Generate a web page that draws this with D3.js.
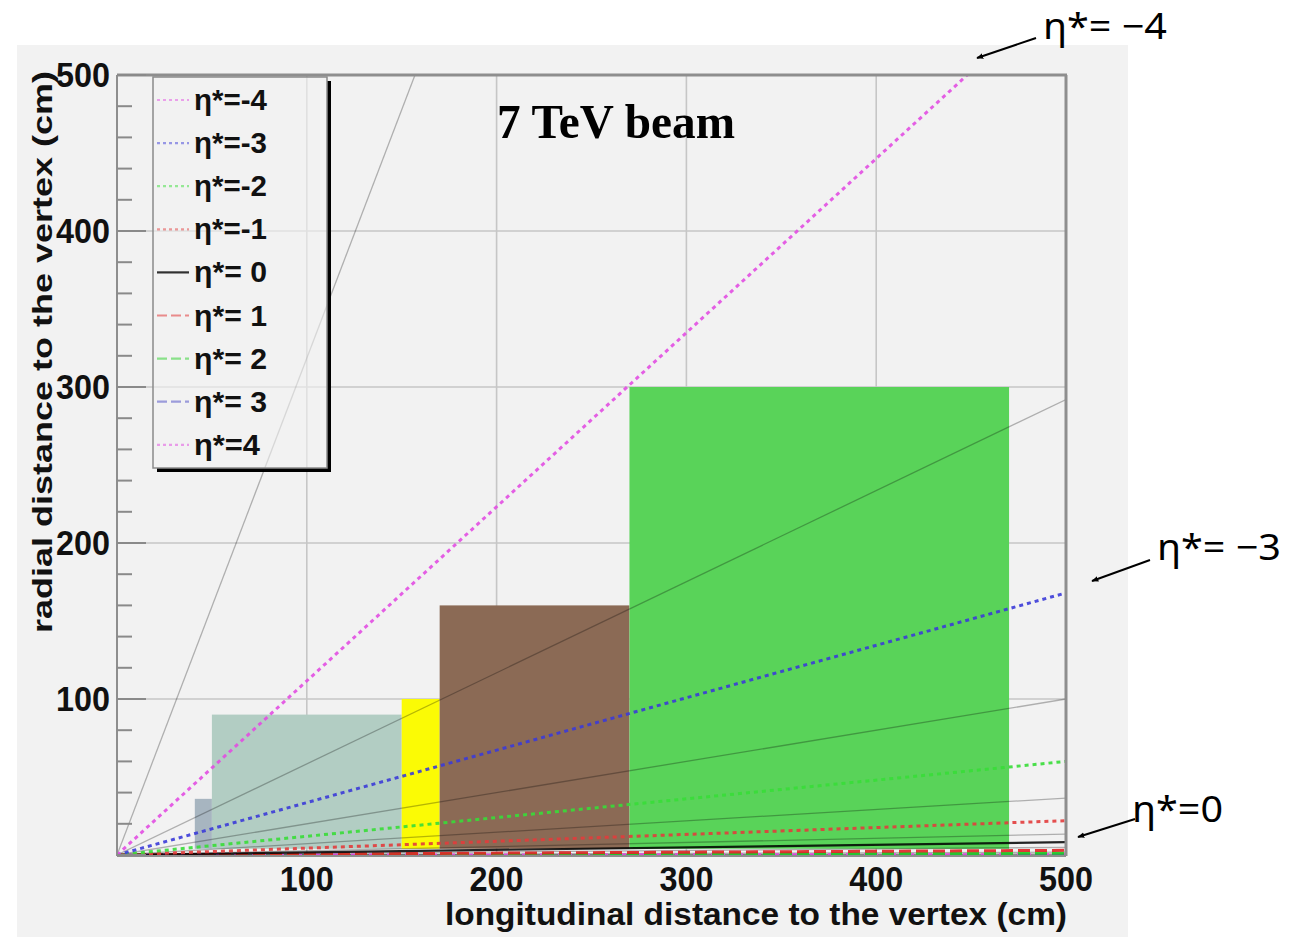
<!DOCTYPE html>
<html>
<head>
<meta charset="utf-8">
<script src="https://cdn.jsdelivr.net/npm/d3@7"></script>
<style>
  html, body { margin: 0; padding: 0; background: #ffffff; }
  svg { display: block; }
</style>
</head>
<body>
<svg id="chart" width="1306" height="937"></svg>
<script>
// ---------------- DATA ----------------
// pseudorapidity lines (7 TeV beam), straight lines from the vertex to an end point
const etaLabels = ["η*=-4", "η*=-3", "η*=-2", "η*=-1", "η*= 0", "η*= 1", "η*= 2", "η*= 3", "η*=4"];
const etaEndZ   = [448, 500, 500, 500, 500, 500, 500, 500, 500];
const etaEndR   = [500, 168, 60, 22, 8.2, 3.0, 1.1, 0.41, 0.15];
const etaColors = ["#e24ee2", "#3b3bd8", "#37dd37", "#e23c3c", "#000000", "#e02424", "#22d022", "#4545c4", "#e046e0"];
const etaDash   = ["4,4", "4,4", "4,4", "4,4", null, "12,5", "12,5", "12,5", "5,4"];

// second family of thin grey lines
const greyEndZ = [157, 500, 500, 500, 500, 500, 500, 500, 500];
const greyEndR = [500, 292, 100, 36.5, 13.4, 4.9, 1.8, 0.67, 0.25];

// detector boxes (z range, r range)
const boxZMin   = [41, 50, 150, 170, 270];
const boxZMax   = [50, 150, 170, 270, 470];
const boxRMin   = [4, 4, 4, 4, 4];
const boxRMax   = [36, 90, 100, 160, 300];
const boxColors = ["#a7b5c0", "#b2cdc3", "#fbfb05", "#8b6a55", "#59d359"];

// axes
const xTickValues = [100, 200, 300, 400, 500];
const yTickValues = [100, 200, 300, 400, 500];
const gridValues  = [100, 200, 300, 400];
const xTitle = "longitudinal distance to the vertex (cm)";
const yTitle = "radial distance to the vertex (cm)";
const plotTitle = "7 TeV beam";

// annotations
const annoText = ["η*= −4", "η*= −3", "η*=0"];

// ---------------- CHART ----------------
const svg = d3.select("#chart");
const X0 = 117, X1 = 1066, Y0 = 855, Y1 = 75;
const x = d3.scaleLinear().domain([0, 500]).range([X0, X1]);
const y = d3.scaleLinear().domain([0, 500]).range([Y0, Y1]);

const defs = svg.append("defs");
defs.append("clipPath").attr("id", "plotclip")
  .append("rect").attr("x", X0).attr("y", Y1).attr("width", X1 - X0).attr("height", Y0 - Y1 + 1);
defs.append("marker").attr("id", "arrow").attr("viewBox", "0 0 10 10")
  .attr("refX", 9).attr("refY", 5).attr("markerWidth", 7).attr("markerHeight", 7)
  .attr("markerUnits", "userSpaceOnUse").attr("orient", "auto")
  .append("path").attr("d", "M0,1 L10,5 L0,9 Z").attr("fill", "#000");

// canvas background
svg.append("rect").attr("x", 17).attr("y", 45).attr("width", 1111).attr("height", 892).attr("fill", "#f2f2f2");

// grid
const grid = svg.append("g").attr("stroke", "#c6c6c6").attr("stroke-width", 1.6);
grid.selectAll("line.v").data(gridValues).join("line").attr("class", "v")
  .attr("x1", d => x(d)).attr("x2", d => x(d)).attr("y1", Y0).attr("y2", Y1);
grid.selectAll("line.h").data(gridValues).join("line").attr("class", "h")
  .attr("y1", d => y(d)).attr("y2", d => y(d)).attr("x1", X0).attr("x2", X1);

// boxes
svg.append("g").selectAll("rect").data(boxColors).join("rect")
  .attr("x", (d, i) => x(boxZMin[i]))
  .attr("y", (d, i) => y(boxRMax[i]))
  .attr("width", (d, i) => x(boxZMax[i]) - x(boxZMin[i]))
  .attr("height", (d, i) => y(boxRMin[i]) - y(boxRMax[i]))
  .attr("fill", d => d);

const lineGen = d3.line().x(d => x(d[0])).y(d => y(d[1]));
const lines = svg.append("g").attr("clip-path", "url(#plotclip)");

// grey lines
lines.selectAll("path.grey").data(greyEndR).join("path").attr("class", "grey")
  .attr("d", (d, i) => lineGen([[0, 0], [greyEndZ[i], d]]))
  .attr("fill", "none").attr("stroke", "#000").attr("stroke-opacity", 0.28).attr("stroke-width", 1.3);

// eta lines (draw positive first so negatives on top)
const order = [8, 7, 6, 5, 4, 3, 2, 1, 0];
lines.selectAll("path.eta").data(order).join("path").attr("class", "eta")
  .attr("d", i => lineGen([[0, 0], [etaEndZ[i], etaEndR[i]]]))
  .attr("fill", "none")
  .attr("stroke", i => etaColors[i])
  .attr("stroke-width", i => i === 4 ? 2.2 : 3)
  .attr("stroke-opacity", i => i === 4 ? 0.85 : 0.9)
  .attr("stroke-dasharray", i => etaDash[i]);

// frame
svg.append("line").attr("x1", X0).attr("x2", X1 + 1).attr("y1", Y1).attr("y2", Y1)
  .attr("stroke", "#8e8e8e").attr("stroke-width", 3);
svg.append("line").attr("x1", X1).attr("x2", X1).attr("y1", Y1).attr("y2", Y0 + 1)
  .attr("stroke", "#8e8e8e").attr("stroke-width", 3);
svg.append("line").attr("x1", X0).attr("x2", X0).attr("y1", Y1).attr("y2", Y0 + 1)
  .attr("stroke", "#8e8e8e").attr("stroke-width", 2);
svg.append("line").attr("x1", X0).attr("x2", X1).attr("y1", Y0 + 1).attr("y2", Y0 + 1)
  .attr("stroke", "#8e8e8e").attr("stroke-width", 2);

// y ticks (inside)
const yMinor = d3.range(0, 501, 20);
svg.append("g").selectAll("line").data(yMinor).join("line")
  .attr("x1", X0).attr("x2", d => X0 + (d % 100 === 0 ? 29 : 15))
  .attr("y1", d => y(d)).attr("y2", d => y(d))
  .attr("stroke", "#8a8a8a").attr("stroke-width", 2);

// tick labels
svg.append("g").selectAll("text").data(yTickValues).join("text")
  .attr("x", 110).attr("y", d => y(d) + 12)
  .attr("text-anchor", "end")
  .attr("font-family", "'Liberation Sans', Arial, sans-serif").attr("font-weight", "bold")
  .attr("font-size", 35).attr("textLength", 54).attr("lengthAdjust", "spacingAndGlyphs")
  .attr("fill", "#111").text(d => d);
svg.append("g").selectAll("text").data(xTickValues).join("text")
  .attr("x", d => x(d)).attr("y", 891)
  .attr("text-anchor", "middle")
  .attr("font-family", "'Liberation Sans', Arial, sans-serif").attr("font-weight", "bold")
  .attr("font-size", 35).attr("textLength", 54).attr("lengthAdjust", "spacingAndGlyphs")
  .attr("fill", "#111").text(d => d);

// axis titles
svg.append("text").attr("x", 756).attr("y", 925).attr("text-anchor", "middle")
  .attr("font-family", "'Liberation Sans', Arial, sans-serif").attr("font-weight", "bold")
  .attr("font-size", 32).attr("textLength", 622).attr("lengthAdjust", "spacingAndGlyphs")
  .attr("fill", "#111").text(xTitle);
svg.append("text").attr("transform", "translate(52,352) rotate(-90)").attr("text-anchor", "middle")
  .attr("font-family", "'Liberation Sans', Arial, sans-serif").attr("font-weight", "bold")
  .attr("font-size", 28).attr("textLength", 562).attr("lengthAdjust", "spacingAndGlyphs")
  .attr("fill", "#111").text(yTitle);

// plot title
svg.append("text").attr("x", 497).attr("y", 138)
  .attr("font-family", "'Liberation Serif', 'Times New Roman', serif").attr("font-weight", "bold")
  .attr("font-size", 49).attr("textLength", 238).attr("lengthAdjust", "spacingAndGlyphs")
  .attr("fill", "#000").text(plotTitle);

// legend (semi-transparent, lines behind remain faintly visible)
const LX = 153, LY = 77, LW = 174, LH = 391;
svg.append("rect").attr("x", LX + 4).attr("y", LY + 4).attr("width", LW).attr("height", LH).attr("fill", "none")
  .attr("stroke", "#000").attr("stroke-width", 0);
svg.append("line").attr("x1", LX + LW + 2).attr("x2", LX + LW + 2).attr("y1", LY + 4).attr("y2", LY + LH + 4)
  .attr("stroke", "#000").attr("stroke-width", 4);
svg.append("line").attr("x1", LX + 4).attr("x2", LX + LW + 4).attr("y1", LY + LH + 2).attr("y2", LY + LH + 2)
  .attr("stroke", "#000").attr("stroke-width", 4);
svg.append("rect").attr("x", LX).attr("y", LY).attr("width", LW).attr("height", LH)
  .attr("fill", "#f2f2f2").attr("fill-opacity", 0.6).attr("stroke", "#8a8a8a").attr("stroke-width", 1.5);
const legY = i => 100 + i * 43.1;
const leg = svg.append("g");
leg.selectAll("line").data(etaLabels).join("line")
  .attr("x1", 157).attr("x2", 189)
  .attr("y1", (d, i) => legY(i)).attr("y2", (d, i) => legY(i))
  .attr("stroke", (d, i) => etaColors[i])
  .attr("stroke-opacity", (d, i) => i === 4 ? 0.8 : 0.5)
  .attr("stroke-width", 2.2)
  .attr("stroke-dasharray", (d, i) => i < 4 || i === 8 ? "3,3" : (i === 4 ? null : "10,4"));
leg.selectAll("text").data(etaLabels).join("text")
  .attr("x", 194).attr("y", (d, i) => legY(i) + 10)
  .attr("font-family", "'Liberation Sans', Arial, sans-serif").attr("font-weight", "bold")
  .attr("font-size", 29)
  .attr("textLength", (d, i) => i === 8 ? 66 : 73).attr("lengthAdjust", "spacingAndGlyphs")
  .attr("fill", "#111").text(d => d);

// right-side annotations with arrows
const annoPos = [[1043, 39], [1157, 560], [1132, 822]];
const arrowPts = [[[1036, 38], [977, 58]], [[1150, 560], [1092, 581]], [[1135, 819], [1078, 837]]];
svg.append("g").selectAll("line").data(arrowPts).join("line")
  .attr("x1", d => d[0][0]).attr("y1", d => d[0][1])
  .attr("x2", d => d[1][0]).attr("y2", d => d[1][1])
  .attr("stroke", "#000").attr("stroke-width", 2).attr("marker-end", "url(#arrow)");
svg.append("g").selectAll("text").data(annoText).join("text")
  .attr("x", (d, i) => annoPos[i][0]).attr("y", (d, i) => annoPos[i][1])
  .attr("font-family", "'Noto Sans', 'DejaVu Sans', sans-serif")
  .attr("font-size", 36)
  .attr("textLength", (d, i) => i === 2 ? 91 : 124).attr("lengthAdjust", "spacingAndGlyphs")
  .attr("fill", "#000").text(d => d);
</script>
</body>
</html>
